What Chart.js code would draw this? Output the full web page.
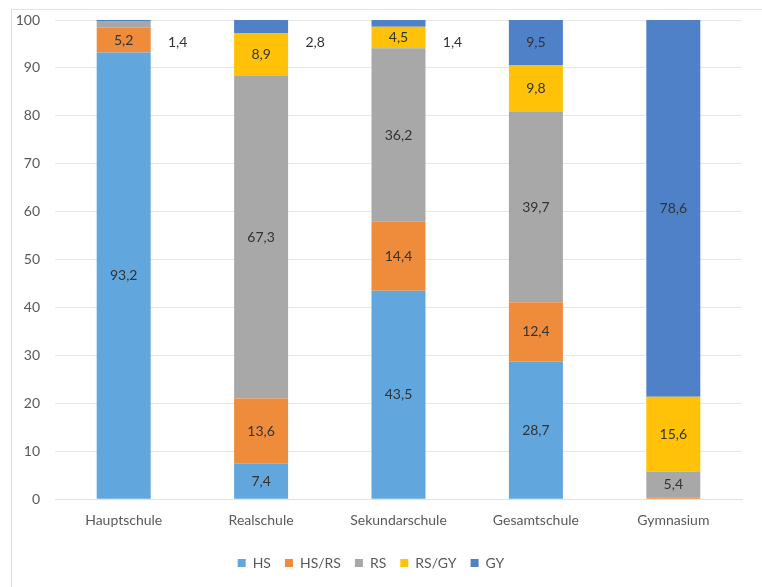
<!DOCTYPE html>
<html>
<head>
<meta charset="utf-8">
<script src="https://cdn.jsdelivr.net/npm/chart.js@4/dist/chart.umd.min.js"></script>
<style>
  html, body { margin: 0; padding: 0; background: #ffffff; }
  #wrap { position: relative; width: 762px; height: 587px; }
  #frame { position: absolute; left: 11px; top: 9px; width: 760px; height: 600px;
           border-left: 1px solid #dcdcdc; border-top: 1px solid #e4e4e4; }
  canvas { position: absolute; left: 0; top: 0; }
</style>
</head>
<body>
<div id="wrap">
  <div id="frame"></div>
  <canvas id="c" width="762" height="587"></canvas>
</div>
<script>
const categories = ['Hauptschule', 'Realschule', 'Sekundarschule', 'Gesamtschule', 'Gymnasium'];
const seriesNames = ['HS', 'HS/RS', 'RS', 'RS/GY', 'GY'];
const hs    = [93.2, 7.4, 43.5, 28.7, 0];
const hsrs  = [5.2, 13.6, 14.4, 12.4, 0.4];
const rs    = [1.4, 67.3, 36.2, 39.7, 5.4];
const rsgy  = [0, 8.9, 4.5, 9.8, 15.6];
const gy    = [0.2, 2.8, 1.4, 9.5, 78.6];
const yTicks = [0, 10, 20, 30, 40, 50, 60, 70, 80, 90, 100];
const colors = ['#62a6de', '#ee8c3c', '#a8a8a8', '#ffc208', '#4f81c8'];

const seriesValues = [hs, hsrs, rs, rsgy, gy];
const datasets = seriesNames.map((n, i) => ({
  label: n,
  data: seriesValues[i],
  backgroundColor: colors[i],
  borderWidth: 0,
  categoryPercentage: 1,
  barPercentage: 0.393
}));

const FONT = 'Lato, "Open Sans", sans-serif';
const fmt = v => v.toFixed(1).replace('.', ',');

const labelPlugin = {
  id: 'segLabels',
  afterDatasetsDraw(chart) {
    const ctx = chart.ctx;
    ctx.save();
    ctx.font = '14px ' + FONT;
    ctx.fillStyle = '#333333';
    ctx.textAlign = 'center';
    ctx.textBaseline = 'middle';
    chart.data.datasets.forEach((ds, di) => {
      const meta = chart.getDatasetMeta(di);
      meta.data.forEach((bar, i) => {
        const v = ds.data[i];
        if (v >= 3) {
          ctx.fillText(fmt(v), bar.x, (bar.y + bar.base) / 2);
        } else if (v >= 1) {
          const right = bar.x + bar.width / 2;
          ctx.fillText(fmt(v), right + 27, chart.chartArea.top + 22);
        }
      });
    });
    ctx.restore();
  }
};

new Chart(document.getElementById('c'), {
  type: 'bar',
  data: { labels: categories, datasets },
  plugins: [labelPlugin],
  options: {
    responsive: false,
    animation: false,
    layout: { padding: { left: 0, right: 20, top: 20, bottom: 7 } },
    scales: {
      x: {
        stacked: true,
        grid: { display: false, drawTicks: false },
        border: { display: true, color: '#e2e2e2' },
        ticks: { color: '#595959', font: { family: FONT, size: 14 }, padding: 13 }
      },
      y: {
        stacked: true,
        min: 0, max: 100,
        afterBuildTicks(scale) { scale.ticks = yTicks.map(v => ({ value: v })); },
        afterFit(scale) { scale.width = 55; scale.paddingTop = 0; scale.paddingBottom = 0; },
        grid: { color: '#e6e6e6', drawTicks: false },
        border: { display: false },
        ticks: { color: '#595959', font: { family: FONT, size: 14 }, padding: 15 }
      }
    },
    plugins: {
      legend: {
        position: 'bottom',
        labels: {
          boxWidth: 8, boxHeight: 8, padding: 14,
          color: '#595959',
          font: { family: FONT, size: 14 }
        }
      },
      tooltip: { enabled: false }
    }
  }
});
</script>
</body>
</html>
